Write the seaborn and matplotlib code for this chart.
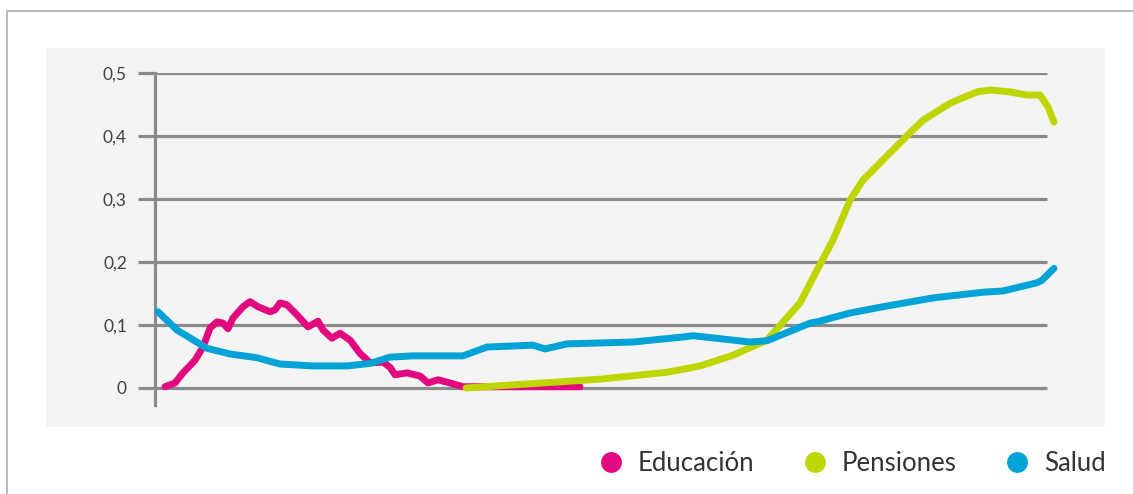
import matplotlib
matplotlib.use("Agg")
import matplotlib.pyplot as plt
import seaborn as sns
import pandas as pd
from matplotlib.lines import Line2D
from matplotlib.patches import Rectangle

sns.set_theme(style="white")
plt.rcParams['font.family'] = ['Lato', 'DejaVu Sans']

# ---- data ----
edu_x = [10, 20, 28, 40, 48, 55, 62, 68, 73, 78, 88, 95, 103, 115, 120, 125, 132, 142, 153, 163,
         168, 177, 185, 195, 205, 215, 228, 235, 240, 252, 265, 273, 283, 295, 308, 425]
edu_y = [0.002, 0.008, 0.024, 0.044, 0.065, 0.095, 0.105, 0.103, 0.094, 0.111, 0.129, 0.137, 0.129,
         0.121, 0.124, 0.135, 0.132, 0.116, 0.097, 0.106, 0.092, 0.079, 0.087, 0.076, 0.055, 0.040,
         0.041, 0.033, 0.021, 0.024, 0.019, 0.008, 0.013, 0.008, 0.002, 0.002]

pen_x = [311, 378, 445, 512, 545, 578, 612, 645, 662, 678, 695, 708, 728, 755, 768, 795, 822, 835,
         855, 872, 885, 893, 899]
pen_y = [0.0, 0.007, 0.014, 0.025, 0.035, 0.052, 0.076, 0.135, 0.187, 0.235, 0.298, 0.330, 0.362,
         0.405, 0.425, 0.452, 0.470, 0.473, 0.470, 0.465, 0.465, 0.446, 0.422]

sal_x = [3, 22, 52, 75, 102, 125, 158, 192, 215, 235, 258, 308, 332, 378, 390, 412, 478, 528, 538,
         595, 612, 655, 662, 695, 728, 778, 828, 848, 882, 887, 899]
sal_y = [0.121, 0.092, 0.063, 0.054, 0.048, 0.038, 0.035, 0.035, 0.039, 0.049, 0.051, 0.051, 0.065,
         0.068, 0.062, 0.070, 0.073, 0.081, 0.083, 0.073, 0.075, 0.103, 0.105, 0.119, 0.129, 0.143,
         0.152, 0.154, 0.167, 0.171, 0.190]

series = ["Educación", "Pensiones", "Salud"]
colors = ["#E2087F", "#BED600", "#00A3D5"]
yticks = [0, 0.1, 0.2, 0.3, 0.4, 0.5]
ytick_labels = ["0", "0,1", "0,2", "0,3", "0,4", "0,5"]

df = pd.concat([
    pd.DataFrame({"x": edu_x, "y": edu_y, "serie": series[0]}),
    pd.DataFrame({"x": pen_x, "y": pen_y, "serie": series[1]}),
    pd.DataFrame({"x": sal_x, "y": sal_y, "serie": series[2]}),
])

W, H = 1133, 494
fig = plt.figure(figsize=(W / 100, H / 100), dpi=100)
fig.patch.set_facecolor("white")

# outer frame & panel
fig.add_artist(Line2D([7 / W, 7 / W, 1.0], [0.0, 1 - 11 / H, 1 - 11 / H],
                      transform=fig.transFigure, color="#ababab", lw=1.2))
fig.add_artist(Rectangle((46 / W, 1 - 427 / H), (1105 - 46) / W, (427 - 48) / H,
                         transform=fig.transFigure, facecolor="#f4f4f4", edgecolor="none", zorder=0))

ax = fig.add_axes([155 / W, 1 - 405 / H, 905 / W, (405 - 73) / H])
ax.set_facecolor("none")
ax.set_xlim(0, 905)
ax.set_ylim(-0.027, 0.5)

grid_col = "#8a8a8a"
ax.hlines(yticks, 0, 892, colors=grid_col, lw=2.3, zorder=1)

sns.lineplot(data=df, x="x", y="y", hue="serie", palette=colors, hue_order=series,
             ax=ax, lw=5.0, legend=False, sort=False, estimator=None)
for ln in ax.lines:
    ln.set_solid_capstyle("round")
    ln.set_solid_joinstyle("round")
    ln.set_clip_on(False)
    ln.set_zorder(3)

for s in ["top", "right", "bottom"]:
    ax.spines[s].set_visible(False)
ax.spines["left"].set_color(grid_col)
ax.spines["left"].set_linewidth(2.3)
ax.set_xticks([])
ax.set_yticks(yticks)
ax.set_yticklabels(ytick_labels)
ax.tick_params(axis="y", length=12.2, width=2.3, color=grid_col, pad=8,
               labelsize=12.5, labelcolor="#404040", left=True)
ax.set_xlabel("")
ax.set_ylabel("")

handles = [Line2D([], [], marker="o", color="none", markerfacecolor=c, markeredgecolor="none",
                  markersize=15) for c in colors]
fig.legend(handles, series, loc="center right", bbox_to_anchor=(1106 / W, 1 - 463 / H),
           ncol=3, frameon=False, fontsize=18.5, handlelength=1.0, handletextpad=0.55,
           columnspacing=1.85, labelcolor="#333333", borderaxespad=0, borderpad=0)

fig.savefig("out.png", dpi=100)
